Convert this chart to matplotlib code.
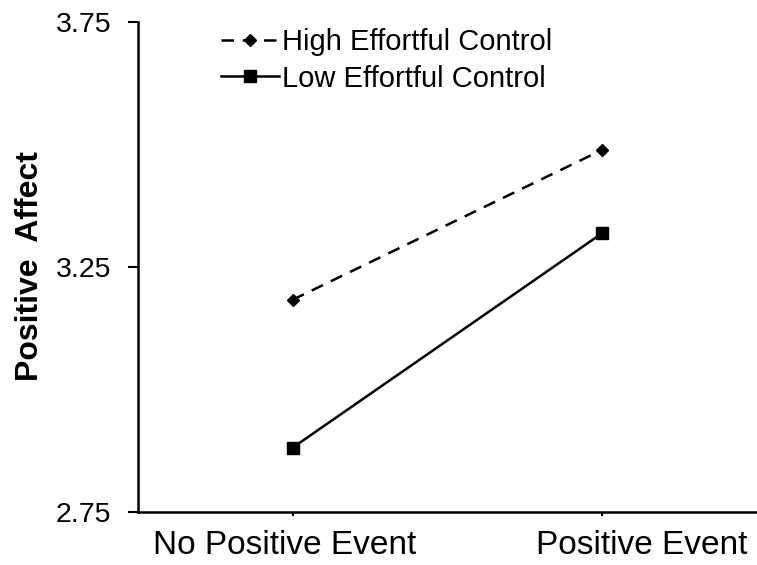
import matplotlib
matplotlib.use("Agg")
import matplotlib.pyplot as plt
import matplotlib.transforms as mtransforms

plt.rcParams['font.family'] = ['Liberation Sans', 'DejaVu Sans']

categories = ["No Positive Event", "Positive Event"]
high_ec = [3.183, 3.489]
low_ec = [2.881, 3.319]
yticks = [2.75, 3.25, 3.75]

fig = plt.figure(figsize=(7.57, 5.65), dpi=100)
ax = fig.add_axes([0.182, 0.094, 0.818, 0.867])

x = list(range(len(categories)))
ax.plot(x, high_ec, color='black', linestyle=(0, (5, 3.5)), linewidth=1.8,
        marker='D', markersize=6.5, label='High Effortful Control')
ax.plot(x, low_ec, color='black', linestyle='-', linewidth=1.8,
        marker='s', markersize=8.5, label='Low Effortful Control')

ax.set_xlim(-0.5, 1.5)
ax.set_ylim(2.75, 3.75)
ax.set_yticks(yticks)
ax.set_yticklabels([f"{v:.2f}" for v in yticks], fontsize=20.5)
ax.set_xticks(x)
ax.set_xticklabels(categories, fontsize=24)
ax.tick_params(axis='y', direction='out', length=7, width=1.5, pad=12)
ax.tick_params(axis='x', direction='out', length=3, width=1.5, pad=10)

# shift category labels as in the reference
labels = ax.get_xticklabels()
offset = mtransforms.ScaledTranslation(0.39, 0, fig.dpi_scale_trans)
labels[1].set_transform(labels[1].get_transform() + offset)
offset0 = mtransforms.ScaledTranslation(-0.08, 0, fig.dpi_scale_trans)
labels[0].set_transform(labels[0].get_transform() + offset0)

for s in ['top', 'right']:
    ax.spines[s].set_visible(False)
ax.spines['left'].set_linewidth(1.8)
ax.spines['bottom'].set_linewidth(1.8)

fig.text(30 / 757, 1 - 266 / 565, "Positive  Affect", fontsize=23, fontweight='bold',
         rotation=90, ha='center', va='center')

ax.legend(loc='upper left', bbox_to_anchor=(0.115, 1.012), frameon=False,
          fontsize=21, handlelength=2.0, handletextpad=0.1, labelspacing=0.3,
          borderaxespad=0)

fig.savefig("out.png", dpi=100)
